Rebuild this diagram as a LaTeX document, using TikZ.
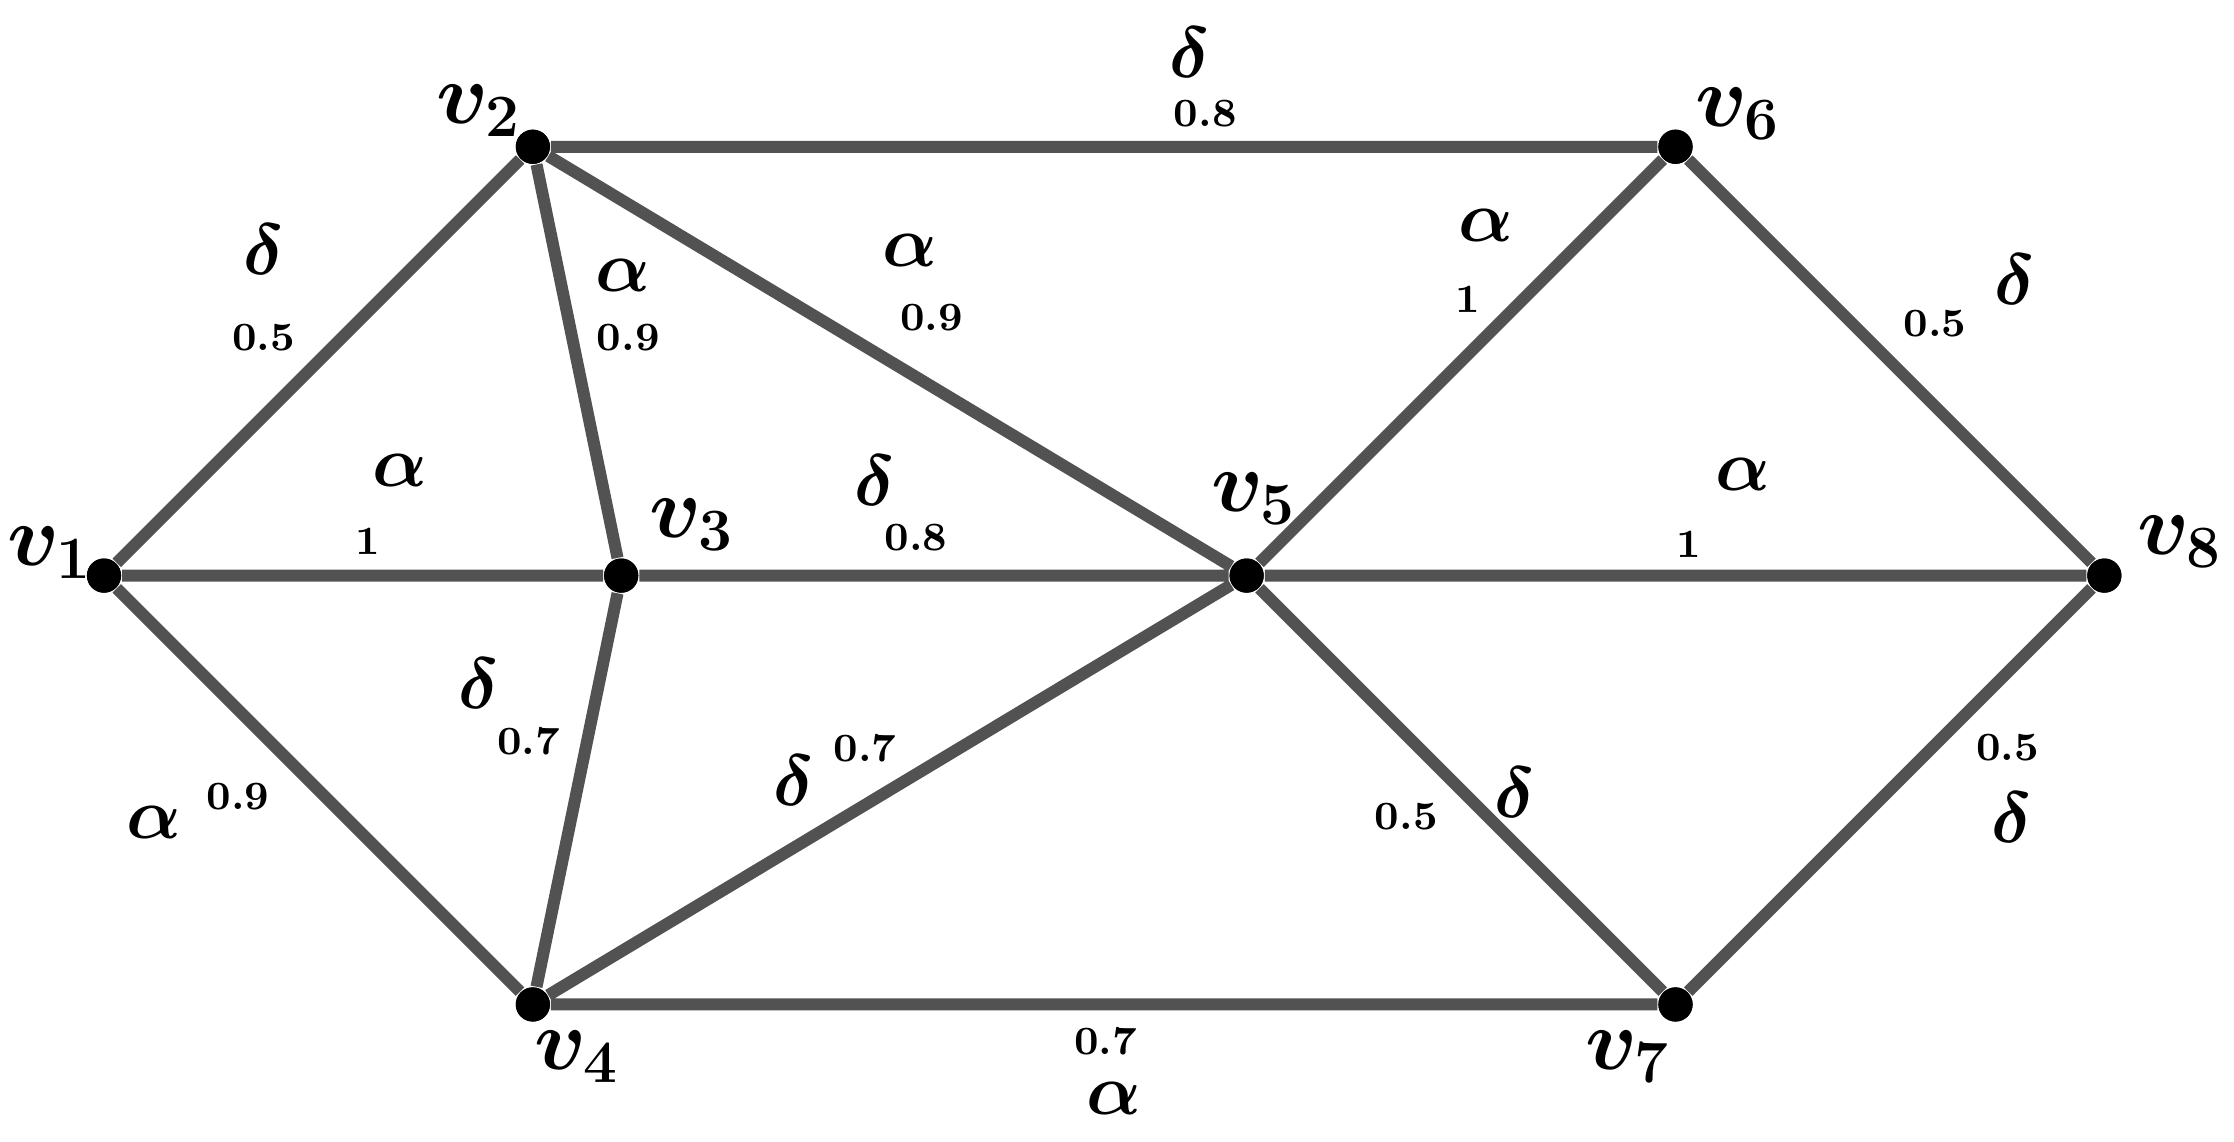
\documentclass[tikz,border=0pt]{standalone}
\usepackage{bm}
\begin{document}
\begin{tikzpicture}[x=0.1mm,y=-0.1mm,
  vtx/.style={circle,fill=black,inner sep=0pt,minimum size=2.4mm},
  edge/.style={draw=black!68,line width=2.4pt},
  vl/.style={font=\LARGE},
  gl/.style={font=\Large},
  nl/.style={font=\footnotesize\bfseries}]
\useasboundingbox (0,0) rectangle (1568,801);
\node[vtx] (v1) at (73,404) {};
\node[vtx] (v2) at (374,103) {};
\node[vtx] (v3) at (436,404) {};
\node[vtx] (v4) at (374,705) {};
\node[vtx] (v5) at (875,404) {};
\node[vtx] (v6) at (1176,103) {};
\node[vtx] (v7) at (1176,705) {};
\node[vtx] (v8) at (1477,404) {};
\begin{scope}[on background layer/.style={}]
\end{scope}
\draw[edge] (v1)--(v2) (v1)--(v3) (v1)--(v4) (v2)--(v3) (v2)--(v5) (v2)--(v6)
  (v3)--(v5) (v3)--(v4) (v4)--(v5) (v4)--(v7) (v5)--(v6) (v5)--(v8) (v5)--(v7)
  (v6)--(v8) (v7)--(v8);
\foreach \n in {v1,v2,v3,v4,v5,v6,v7,v8} \node[vtx] at (\n) {};
\node[vl] (l1) at (35,388) {$\bm{v_1}$};
\node[vl] (l2) at (336,78) {$\bm{v_2}$};
\node[vl] (l3) at (486,368) {$\bm{v_3}$};
\node[vl] (l4) at (405,742) {$\bm{v_4}$};
\node[vl] (l5) at (880,350) {$\bm{v_5}$};
\node[vl] (l6) at (1220,80) {$\bm{v_6}$};
\node[vl] (l7) at (1143,742) {$\bm{v_7}$};
\node[vl] (l8) at (1530,380) {$\bm{v_8}$};
\node[gl] (g12) at (185,175) {$\bm\delta$}; \node[nl] (n12) at (185,237) {0.5};
\node[gl] (g23) at (437,193) {$\bm\alpha$}; \node[nl] (n23) at (441,237) {0.9};
\node[gl] (g13) at (281,330) {$\bm\alpha$}; \node[nl] (n13) at (258,380) {1};
\node[gl] (g25) at (639,176) {$\bm\alpha$}; \node[nl] (n25) at (654,223) {0.9};
\node[gl] (g35) at (614,337) {$\bm\delta$}; \node[nl] (n35) at (643,377) {0.8};
\node[gl] (g26) at (835,37) {$\bm\delta$}; \node[nl] (n26) at (846,80) {0.8};
\node[gl] (g56) at (1043,158) {$\bm\alpha$}; \node[nl] (n56) at (1030,210) {1};
\node[gl] (g68) at (1414,196) {$\bm\delta$}; \node[nl] (n68) at (1358,227) {0.5};
\node[gl] (g58) at (1223,333) {$\bm\alpha$}; \node[nl] (n58) at (1185,382) {1};
\node[gl] (g14) at (108,577) {$\bm\alpha$}; \node[nl] (n14) at (167,559) {0.9};
\node[gl] (g34) at (336,480) {$\bm\delta$}; \node[nl] (n34) at (371,520) {0.7};
\node[gl] (g45) at (557,548) {$\bm\delta$}; \node[nl] (n45) at (607,525) {0.7};
\node[gl] (g57) at (1063,556) {$\bm\delta$}; \node[nl] (n57) at (987,573) {0.5};
\node[gl] (g78) at (1412,574) {$\bm\delta$}; \node[nl] (n78) at (1409,525) {0.5};
\node[gl] (g47) at (782,771) {$\bm\alpha$}; \node[nl] (n47) at (776,731) {0.7};
\end{tikzpicture}
\end{document}
